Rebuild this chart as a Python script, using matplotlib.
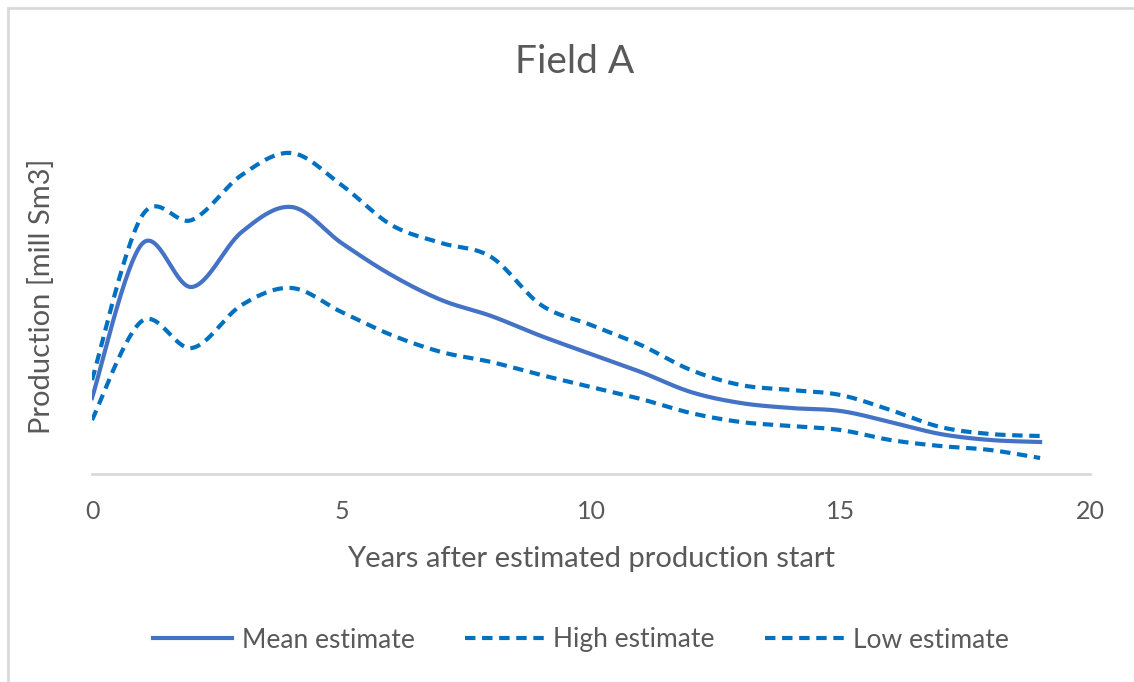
import numpy as np
import matplotlib.pyplot as plt
from matplotlib.patches import Rectangle

years = list(range(20))
mean_est = [7.6, 23.0, 18.7, 24.2, 26.7, 23.1, 19.9, 17.4, 15.8, 13.8,
            12.0, 10.2, 8.2, 7.1, 6.6, 6.3, 5.2, 4.0, 3.4, 3.2]
high_est = [9.4, 25.8, 25.4, 29.9, 32.1, 28.9, 24.9, 23.1, 21.7, 16.9,
            14.9, 12.9, 10.4, 8.9, 8.4, 7.9, 6.4, 4.7, 4.0, 3.8]
low_est = [5.4, 15.3, 12.6, 16.9, 18.6, 16.2, 13.9, 12.2, 11.2, 9.9,
           8.7, 7.5, 6.1, 5.2, 4.8, 4.4, 3.4, 2.8, 2.4, 1.6]
x_ticks = [0, 5, 10, 15, 20]

TEXT = "#595959"
plt.rcParams["font.family"] = ["Lato", "DejaVu Sans"]


def smooth(x, y, n=30):
    """Excel-like smoothed line: cubic Bezier with Catmull-Rom control points."""
    x = np.asarray(x, float)
    y = np.asarray(y, float)
    px = np.concatenate([[x[0]], x, [x[-1]]])
    py = np.concatenate([[y[0]], y, [y[-1]]])
    t = np.linspace(0, 1, n)[:, None]
    xs, ys = [], []
    for i in range(1, len(px) - 2):
        p0 = np.array([px[i], py[i]])
        p3 = np.array([px[i + 1], py[i + 1]])
        p1 = p0 + (np.array([px[i + 1], py[i + 1]]) - np.array([px[i - 1], py[i - 1]])) / 6
        p2 = p3 - (np.array([px[i + 2], py[i + 2]]) - np.array([px[i], py[i]])) / 6
        pts = ((1 - t) ** 3) * p0 + 3 * ((1 - t) ** 2) * t * p1 + 3 * (1 - t) * t ** 2 * p2 + t ** 3 * p3
        xs.append(pts[:, 0])
        ys.append(pts[:, 1])
    return np.concatenate(xs), np.concatenate(ys)


fig = plt.figure(figsize=(11.34, 6.82), dpi=100)
# chart-area border, only its left and top edges fall inside the image
fig.patches.append(Rectangle((8 / 1134, -20 / 682), 1200 / 1134, 694 / 682,
                             transform=fig.transFigure, fill=False,
                             edgecolor="#D9D9D9", linewidth=2))
ax = fig.add_axes([92 / 1134, 208 / 682, 998 / 1134, 350 / 682])

dash = (0, (2.5, 1.6))
sx, sy = smooth(years, mean_est)
ax.plot(sx, sy, color="#4472C4", lw=3, label="Mean estimate")
sx, sy = smooth(years, high_est)
ax.plot(sx, sy, color="#0070C0", lw=3, ls=dash, label="High estimate")
sx, sy = smooth(years, low_est)
ax.plot(sx, sy, color="#0070C0", lw=3, ls=dash, label="Low estimate")

ax.set_xlim(0, 20)
ax.set_ylim(0, 35)
ax.set_xticks(x_ticks)
ax.set_yticks([])
for s in ["top", "right", "left"]:
    ax.spines[s].set_visible(False)
ax.spines["bottom"].set_color("#D9D9D9")
ax.spines["bottom"].set_linewidth(2)
ax.tick_params(axis="x", length=0, pad=19, labelsize=18, labelcolor=TEXT)

ax.set_xlabel("Years after estimated production start", fontsize=21, color=TEXT, labelpad=16)
ax.set_ylabel("Production [mill Sm3]", fontsize=21, color=TEXT)
ax.yaxis.set_label_coords(-37 / 998, 0.509)
fig.text(575 / 1134, 1 - 62 / 682, "Field A", ha="center", va="center", fontsize=28, color=TEXT)

fig.legend(loc="center", bbox_to_anchor=(581 / 1134, 1 - 640 / 682), ncol=3, frameon=False,
           fontsize=19, labelcolor=TEXT, handlelength=3, handletextpad=0.35, columnspacing=1.9)

fig.savefig("out.png", dpi=100)
